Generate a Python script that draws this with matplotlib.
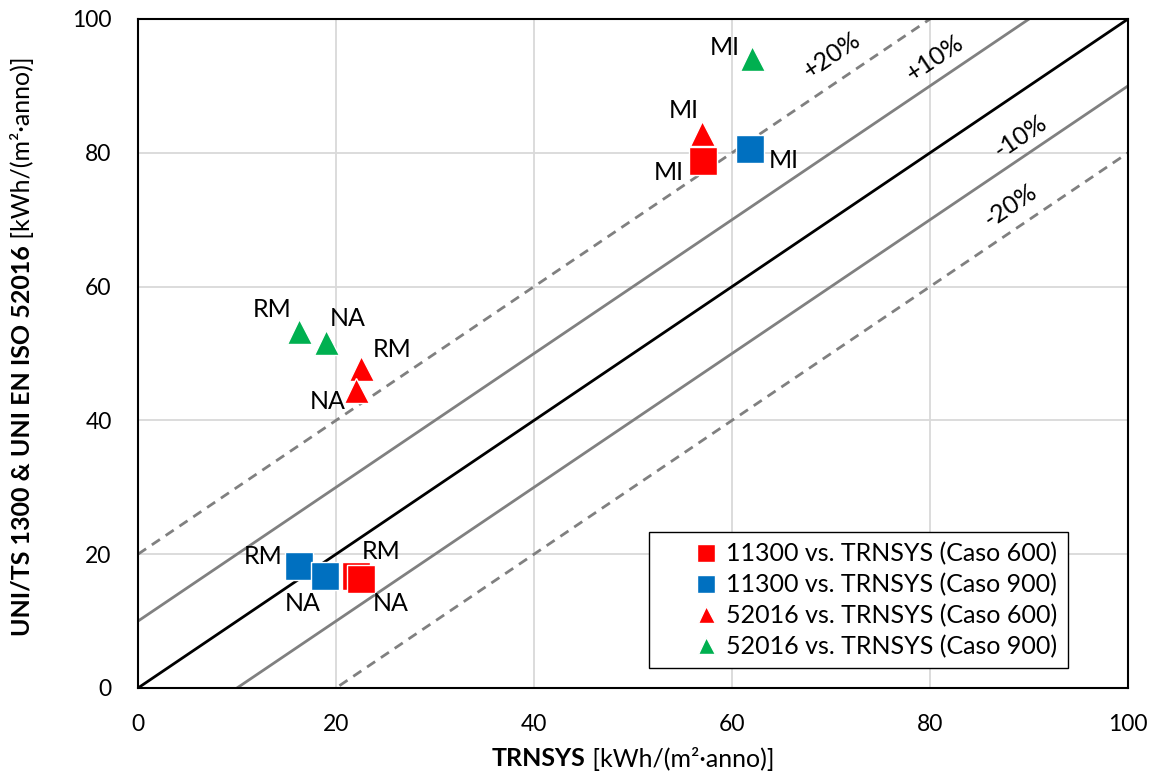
import numpy as np
import matplotlib
matplotlib.use("Agg")
import matplotlib.pyplot as plt

plt.rcParams['font.family'] = ['Lato', 'DejaVu Sans']

# energy needs [kWh/(m2*anno)]: TRNSYS (x) vs. simplified method (y)
cities = ["MI", "RM", "NA"]
trnsys_600 = [57.1, 22.0, 22.5]
trnsys_900 = [61.8, 16.3, 18.9]
uni11300_600 = [78.8, 16.8, 16.3]
uni11300_900 = [80.6, 18.2, 16.7]

trnsys_600_b = [57.0, 22.5, 22.0]
trnsys_900_b = [62.0, 16.3, 19.0]
iso52016_600 = [83.0, 47.8, 44.5]
iso52016_900 = [94.2, 53.4, 51.7]

# reference band offsets
offsets = [20, 10, -10, -20]
offset_labels = ["+20%", "+10%", "-10%", "-20%"]

series = [
    ("11300 vs. TRNSYS (Caso 600)", trnsys_600, uni11300_600, "s", "#FF0000"),
    ("11300 vs. TRNSYS (Caso 900)", trnsys_900, uni11300_900, "s", "#0070C0"),
    ("52016 vs. TRNSYS (Caso 600)", trnsys_600_b, iso52016_600, "^", "#FF0000"),
    ("52016 vs. TRNSYS (Caso 900)", trnsys_900_b, iso52016_900, "^", "#00B050"),
]

# label offsets in pixels for each series, per city
label_offsets = [
    [(-35, -12), (25, 24), (30, -25)],
    [(34, -12), (-36, 10), (-22, -27)],
    [(-19, 22), (31, 19), (-28, -11)],
    [(-27, 10), (-27, 21), (22, 24)],
]

FS = 18

fig = plt.figure(figsize=(11.57, 7.78), dpi=100)
ax = fig.add_axes([0.1193, 0.1157, 0.8557, 0.8599])

xx = np.array([0, 100])
ax.plot(xx, xx, color="black", lw=2, zorder=2)
for off in offsets:
    if abs(off) == 20:
        ax.plot(xx, xx + off, color="#808080", lw=2, ls="--", dashes=(3.5, 2.5), zorder=2)
    else:
        ax.plot(xx, xx + off, color="#808080", lw=2, zorder=2)

label_pos = [(70.1, 94.6), (80.5, 94.2), (89.1, 82.4), (88.1, 72.1)]
for (lx, ly), txt in zip(label_pos, offset_labels):
    ax.text(lx, ly, txt, rotation=34, rotation_mode="anchor", ha="center",
            va="center", fontsize=FS, zorder=3)

for (name, xs, ys, mk, col), offs in zip(series, label_offsets):
    size = 20 if mk == "s" else 18
    ax.plot(xs, ys, ls="none", marker=mk, ms=size, color=col, mec="white",
            mew=1, zorder=4, label=name)
    for x, y, city, off in zip(xs, ys, cities, offs):
        ax.annotate(city, (x, y), xytext=off, textcoords="offset pixels",
                    ha="center", va="center", fontsize=FS, zorder=5)

ax.set_xlim(0, 100)
ax.set_ylim(0, 100)
ax.set_xticks(range(0, 101, 20))
ax.set_yticks(range(0, 101, 20))
ax.tick_params(labelsize=16.5, length=0, pad=19)
ax.grid(color="#D9D9D9", lw=1.3, zorder=0)
ax.set_axisbelow(True)
for sp in ax.spines.values():
    sp.set_color("black")
    sp.set_linewidth(1.5)

leg = ax.legend(loc="lower left", bbox_to_anchor=(0.516, 0.03), fontsize=FS,
                markerscale=0.68, numpoints=1, handlelength=3.8,
                handletextpad=-1.1, labelspacing=0.3, borderpad=0.4,
                borderaxespad=0, fancybox=False, framealpha=1,
                edgecolor="black")
leg.get_frame().set_linewidth(1)

# axis titles: bold name followed by regular unit
unit = " [kWh/(m²·anno)]"
renderer = fig.canvas.get_renderer()


def two_part_label(bold, cx, cy, vertical=False):
    rot = 90 if vertical else 0
    t1 = fig.text(0, 0, bold, fontsize=FS, fontweight="bold", rotation=rot,
                  ha="left", va="center", transform=None)
    t2 = fig.text(0, 0, unit, fontsize=FS, rotation=rot, ha="left",
                  va="center", transform=None)
    b1 = t1.get_window_extent(renderer)
    b2 = t2.get_window_extent(renderer)
    if vertical:
        total = b1.height + b2.height
        y0 = cy - total / 2
        t1.set_position((cx, y0))
        t1.set_va("bottom")
        t1.set_ha("center")
        t2.set_position((cx, y0 + b1.height))
        t2.set_va("bottom")
        t2.set_ha("center")
    else:
        total = b1.width + b2.width
        x0 = cx - total / 2
        t1.set_position((x0, cy))
        t2.set_position((x0 + b1.width, cy))


ax_box = ax.get_window_extent(renderer)
two_part_label("TRNSYS", (ax_box.x0 + ax_box.x1) / 2, 778 - 759)
two_part_label("UNI/TS 1300 & UNI EN ISO 52016", 22, 778 - 346, vertical=True)

fig.savefig("out.png", dpi=100)
